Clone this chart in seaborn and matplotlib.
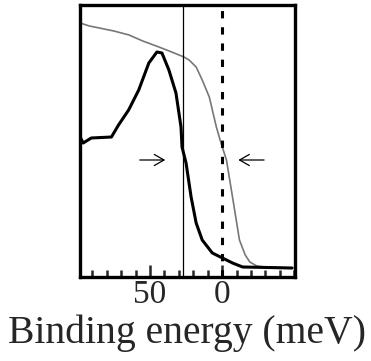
import matplotlib
matplotlib.use("Agg")
import matplotlib.pyplot as plt
import seaborn as sns
import pandas as pd
from matplotlib.ticker import MultipleLocator

# Data (binding energy in meV, intensity in arbitrary units)
gray_energy = [98.4, 92.0, 85.1, 75.0, 64.5, 55.0, 43.8, 35.0, 26.4, 22.9, 18.0, 13.8, 8.9, 4.0, 1.0,
               -3.0, -7.2, -12.0, -16.0, -19.2, -24.0, -29.6, -48.5]
gray_intensity = [254, 251, 249, 246, 242, 236, 230, 225, 220, 217, 210, 197, 180, 150, 135,
                  117, 80, 37, 22, 15, 11, 10, 9]

black_energy = [98.4, 96.3, 90.7, 76.7, 71.8, 64.8, 57.8, 50.8, 45.2, 41.7, 36.9, 32.0, 28.5, 27.8, 25.0, 21.5,
                18.0, 13.8, 6.8, -0.2, -7.2, -14.2, -48.5]
black_intensity = [140, 134, 139, 140, 152, 167, 187, 214, 225, 224, 207, 184, 150, 130, 114, 80,
                   54, 37, 24, 19, 14, 10, 9]

vline_solid = 27
vline_dashed = 0
tick_labels = {50: "50", 0: "0"}
xlabel = "Binding energy (meV)"

sns.set_style("white")
plt.rcParams["font.family"] = ["Liberation Serif", "DejaVu Serif"]

fig = plt.figure(figsize=(3.71, 3.61), dpi=100)
ax = fig.add_axes([80 / 371, (361 - 277) / 361, (295 - 80) / 371, (277 - 5) / 361])

gray_df = pd.DataFrame({"E": gray_energy, "I": gray_intensity})
black_df = pd.DataFrame({"E": black_energy, "I": black_intensity})
sns.lineplot(data=gray_df, x="E", y="I", ax=ax, color="#777777", linewidth=1.2, sort=False)
sns.lineplot(data=black_df, x="E", y="I", ax=ax, color="black", linewidth=2.2, sort=False)

ax.axvline(vline_solid, color="black", linewidth=0.9)
ax.axvline(vline_dashed, color="black", linewidth=2.2, dashes=(2.4, 2.9))

ax.annotate("", xy=(37.5, 117), xytext=(59, 117),
            arrowprops=dict(arrowstyle="->,head_length=0.7,head_width=0.4", color="black", lw=0.9))
ax.annotate("", xy=(-9.3, 117), xytext=(-31, 117),
            arrowprops=dict(arrowstyle="->,head_length=0.7,head_width=0.4", color="black", lw=0.9))

ax.set_xlim(98.5, -50.5)
ax.set_ylim(0, 272)
ax.set_yticks([])
ax.set_xticks(list(tick_labels.keys()))
ax.set_xticklabels(list(tick_labels.values()), fontsize=24)
ax.xaxis.set_minor_locator(MultipleLocator(10))
ax.tick_params(axis="x", which="major", direction="in", length=9, width=1.8, pad=2, bottom=True)
ax.tick_params(axis="x", which="minor", direction="in", length=5, width=1.8, bottom=True)
ax.set_xlabel(xlabel, fontsize=28.5, labelpad=3)
ax.set_ylabel("")
for s in ax.spines.values():
    s.set_linewidth(2.4)
    s.set_color("black")

fig.savefig("out.png", dpi=100)
